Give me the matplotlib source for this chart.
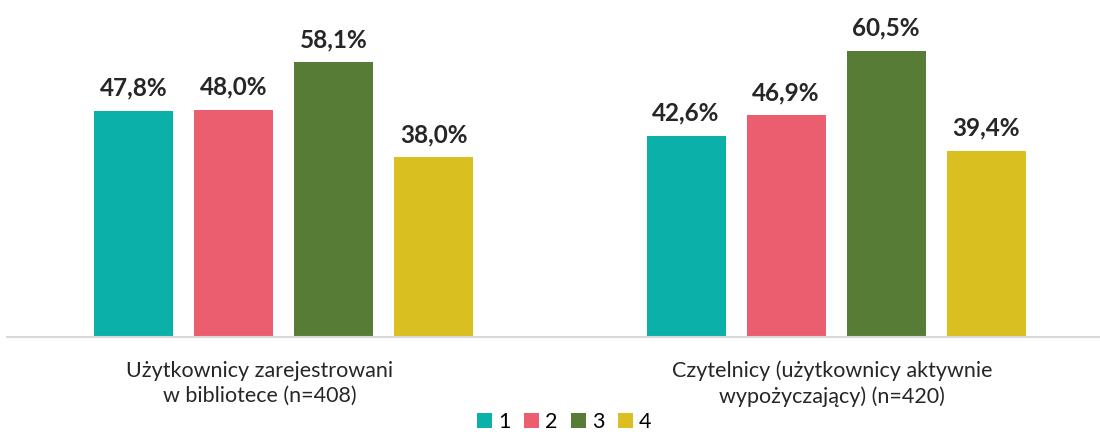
import numpy as np
import matplotlib.pyplot as plt

plt.rcParams['font.family'] = ['Lato', 'DejaVu Sans']

groups = ['Użytkownicy zarejestrowani\nw bibliotece (n=408)',
          'Czytelnicy (użytkownicy aktywnie\nwypożyczający) (n=420)']
series = ['1', '2', '3', '4']
values = {
    '1': [47.8, 42.6],
    '2': [48.0, 46.9],
    '3': [58.1, 60.5],
    '4': [38.0, 39.4],
}
colors = ['#0bb1a8', '#ea5e6f', '#577c36', '#d9c020']

fig = plt.figure(figsize=(11, 4.32), dpi=100)
ax = fig.add_axes([7 / 1100, 95 / 432, 1093 / 1100, 337 / 432])

centers = np.array([0, 5.525])
width = 0.79
for i, (s, c) in enumerate(zip(series, colors)):
    x = centers + (i - 1.5)
    bars = ax.bar(x, values[s], width=width, color=c, label=s, zorder=2)
    for b, v in zip(bars, values[s]):
        ax.annotate(f'{v:.1f}%'.replace('.', ','),
                    (b.get_x() + b.get_width() / 2, v),
                    xytext=(0, 8), textcoords='offset points',
                    ha='center', va='bottom', fontsize=17.5,
                    fontweight='bold', color='#262626')

ax.set_xlim(-2.765, 8.165)
ax.set_ylim(0, 71.25)
ax.set_yticks([])
# group captions sit slightly left of the bar group centres
ax.set_xticks(centers + np.array([-0.235, -0.04]))
ax.set_xticklabels(groups, fontsize=15.5, color='#262626', linespacing=1.3)
ax.tick_params(axis='x', length=0, pad=17)
for side in ['top', 'right', 'left']:
    ax.spines[side].set_visible(False)
ax.spines['bottom'].set_color('#d9d9d9')
ax.spines['bottom'].set_linewidth(1.5)

fig.legend(loc='lower center', bbox_to_anchor=(0.513, -0.045), ncol=4,
           frameon=False, fontsize=15.5, handlelength=0.7, handleheight=0.7,
           handletextpad=0.3, columnspacing=0.6)

fig.savefig('out.png', dpi=100)
